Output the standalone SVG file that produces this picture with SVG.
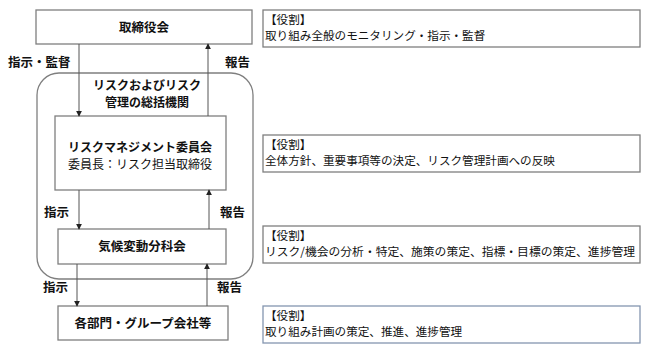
<svg xmlns="http://www.w3.org/2000/svg" width="648" height="352" viewBox="0 0 648 352">
<defs>
<style>
text{font-family:"Noto Sans CJK JP","Noto Sans",sans-serif;fill:#111;}
.b{font-weight:bold;font-size:12.5px;}
.t{font-weight:bold;font-size:12px;}
.n{font-size:12px;}
.r{font-size:11.6px;}
.box{fill:#fff;stroke:#7f7f7f;stroke-width:1.3;}
.rbox{fill:#fff;stroke:#7f7f7f;stroke-width:1.3;}
.blue{stroke:#8496b0;}
.ln{stroke:#555;stroke-width:1;fill:none;marker-end:url(#ah);}
</style>
<marker id="ah" viewBox="0 0 8 8" refX="7" refY="4" markerWidth="6" markerHeight="6" markerUnits="userSpaceOnUse" orient="auto">
<path d="M0,0 L8,4 L0,8 Z" fill="#222"/>
</marker>
</defs>
<rect width="648" height="352" fill="#fff"/>
<g id="container">
<rect x="37" y="73" width="216" height="206" rx="22" ry="22" fill="none" stroke="#7f7f7f" stroke-width="1.3"/>
<text class="t" x="147" y="90" text-anchor="middle">リスクおよびリスク</text>
<text class="t" x="147" y="107" text-anchor="middle">管理の総括機関</text>
</g>
<g id="board">
<rect class="box" x="36" y="10" width="216" height="34"/>
<text class="b" x="144" y="32" text-anchor="middle">取締役会</text>
</g>
<g id="rmc">
<rect class="box" x="55" y="116" width="171" height="74"/>
<text class="t" x="140" y="152" text-anchor="middle">リスクマネジメント委員会</text>
<text class="n" x="140" y="169" text-anchor="middle">委員長：リスク担当取締役</text>
</g>
<g id="climate">
<rect class="box" x="58" y="229" width="168" height="35"/>
<text class="b" x="142" y="251" text-anchor="middle">気候変動分科会</text>
</g>
<g id="depts">
<rect class="box" x="58" y="306" width="170" height="34"/>
<text class="b" x="143" y="328" text-anchor="middle">各部門・グループ会社等</text>
</g>
<g id="role1">
<rect class="rbox" x="263" y="10" width="377" height="37"/>
<text class="r" x="265" y="24">【役割】</text>
<text class="r" x="265" y="40">取り組み全般のモニタリング・指示・監督</text>
</g>
<g id="role2">
<rect class="rbox" x="263" y="135" width="377" height="37"/>
<text class="r" x="265" y="149">【役割】</text>
<text class="r" x="265" y="165">全体方針、重要事項等の決定、リスク管理計画への反映</text>
</g>
<g id="role3">
<rect class="rbox" x="263" y="226" width="377" height="37"/>
<text class="r" x="265" y="240">【役割】</text>
<text class="r" x="265" y="256" textLength="370" lengthAdjust="spacingAndGlyphs">リスク/機会の分析・特定、施策の策定、指標・目標の策定、進捗管理</text>
</g>
<g id="role4">
<rect class="rbox blue" x="263" y="306" width="377" height="37"/>
<text class="r" x="265" y="320">【役割】</text>
<text class="r" x="265" y="336">取り組み計画の策定、推進、進捗管理</text>
</g>
<g id="connectors">
<line class="ln" x1="79" y1="44" x2="79" y2="116"/>
<line class="ln" x1="208" y1="116" x2="208" y2="44"/>
<line class="ln" x1="79" y1="190" x2="79" y2="229"/>
<line class="ln" x1="209" y1="229" x2="209" y2="190"/>
<line class="ln" x1="77" y1="264" x2="77" y2="306"/>
<line class="ln" x1="207" y1="306" x2="207" y2="264"/>
<text class="b" x="8" y="67">指示・監督</text>
<text class="b" x="225" y="67">報告</text>
<text class="b" x="44" y="217">指示</text>
<text class="b" x="220" y="217">報告</text>
<text class="b" x="43" y="292">指示</text>
<text class="b" x="217" y="292">報告</text>
</g>
</svg>
